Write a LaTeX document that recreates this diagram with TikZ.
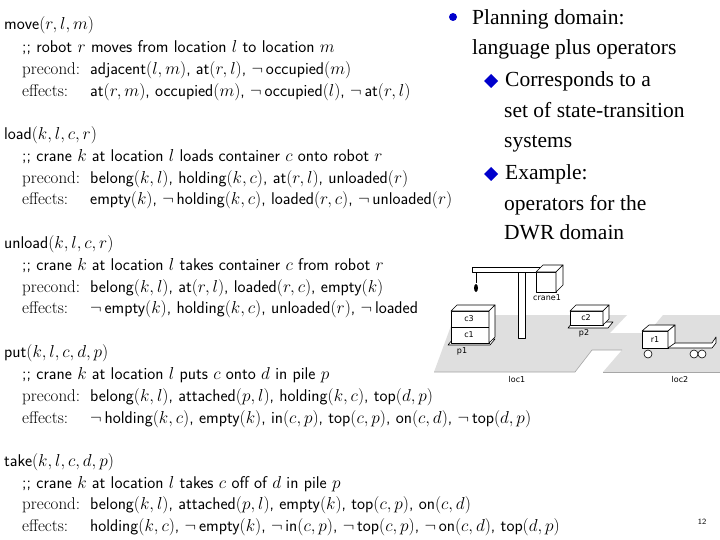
\documentclass[tikz,border=0pt]{standalone}
\usepackage{fontspec}
\newfontfamily\tms{Liberation Serif}
\newfontfamily\dvs{DejaVu Sans}
\begin{document}
\begin{tikzpicture}[x=1pt,y=-1pt,
  op/.style={anchor=base west,inner sep=0pt,font=\fontsize{17}{19}\selectfont\sffamily},
  rt/.style={anchor=base west,inner sep=0pt,font=\fontsize{21.5}{24}\selectfont\tms},
  lab/.style={inner sep=0pt,font=\fontsize{8}{9}\selectfont\dvs},
  box/.style={draw=black,fill=white,line width=0.6pt,line join=round}]
\useasboundingbox (0,0) rectangle (720,540);
% ---- left operators
\def\X{4}\def\Y{22}\def\Z{90}
\node[op] (m0) at (\X,30) {move$(r,l,m)$};
\node[op] (m1) at (\Y,53) {;; robot $r$ moves from location $l$ to location $m$};
\node[op] (m2) at (\Y,75) {\textrm{precond:}};
\node[op] (m2b) at (\Z,75) {adjacent$(l,m)$, at$(r,l)$, $\neg$\,occupied$(m)$};
\node[op] (m3) at (\Y,97) {\textrm{effects:}};
\node[op] (m3b) at (\Z,97) {at$(r,m)$, occupied$(m)$, $\neg$\,occupied$(l)$, $\neg$\,at$(r,l)$};
\node[op] (l0) at (\X,140) {load$(k,l,c,r)$};
\node[op] (l1) at (\Y,162) {;; crane $k$ at location $l$ loads container $c$ onto robot $r$};
\node[op] (l2) at (\Y,184) {\textrm{precond:}};
\node[op] (l2b) at (\Z,184) {belong$(k,l)$, holding$(k,c)$, at$(r,l)$, unloaded$(r)$};
\node[op] (l3) at (\Y,205) {\textrm{effects:}};
\node[op] (l3b) at (\Z,205) {empty$(k)$, $\neg$\,holding$(k,c)$, loaded$(r,c)$, $\neg$\,unloaded$(r)$};
\node[op] (u0) at (\X,248) {unload$(k,l,c,r)$};
\node[op] (u1) at (\Y,270) {;; crane $k$ at location $l$ takes container $c$ from robot $r$};
\node[op] (u2) at (\Y,292) {\textrm{precond:}};
\node[op] (u2b) at (\Z,292) {belong$(k,l)$, at$(r,l)$, loaded$(r,c)$, empty$(k)$};
\node[op] (u3) at (\Y,313) {\textrm{effects:}};
\node[op] (u3b) at (\Z,313) {$\neg$\,empty$(k)$, holding$(k,c)$, unloaded$(r)$, $\neg$\,loaded};
\node[op] (p0) at (\X,357) {put$(k,l,c,d,p)$};
\node[op] (p1) at (\Y,379) {;; crane $k$ at location $l$ puts $c$ onto $d$ in pile $p$};
\node[op] (p2) at (\Y,401) {\textrm{precond:}};
\node[op] (p2b) at (\Z,401) {belong$(k,l)$, attached$(p,l)$, holding$(k,c)$, top$(d,p)$};
\node[op] (p3) at (\Y,423) {\textrm{effects:}};
\node[op] (p3b) at (\Z,423) {$\neg$\,holding$(k,c)$, empty$(k)$, in$(c,p)$, top$(c,p)$, on$(c,d)$, $\neg$\,top$(d,p)$};
\node[op] (t0) at (\X,466) {take$(k,l,c,d,p)$};
\node[op] (t1) at (\Y,488) {;; crane $k$ at location $l$ takes $c$ off of $d$ in pile $p$};
\node[op] (t2) at (\Y,509) {\textrm{precond:}};
\node[op] (t2b) at (\Z,509) {belong$(k,l)$, attached$(p,l)$, empty$(k)$, top$(c,p)$, on$(c,d)$};
\node[op] (t3) at (\Y,531) {\textrm{effects:}};
\node[op] (t3b) at (\Z,531) {holding$(k,c)$, $\neg$\,empty$(k)$, $\neg$\,in$(c,p)$, $\neg$\,top$(c,p)$, $\neg$\,on$(c,d)$, top$(d,p)$};
% ---- DWR picture (drawn over the text, as in the slide)
\fill[white] (440,258) rectangle (720,390);
\fill[gray!25] (455,315) -- (627,315) -- (610,333) -- (648,333) -- (663,315) -- (720,315)
  -- (720,372) -- (603,372) -- (622,350) -- (592,350) -- (575,372) -- (434,372) -- cycle;
\draw[gray!70,line width=0.6pt] (434,372) -- (575,372) -- (592,350) -- (622,350);
\draw[gray!70,line width=0.6pt] (603,372) -- (720,372);
% crane
\draw[box] (518,272) rectangle (525,338);
\draw[box] (472,267) -- (540,267) -- (540,272) -- (472,272) -- cycle;
\draw[line width=0.8pt] (476,272) -- (476,283);
\fill (476,288) ellipse (2 and 4);
\draw[box] (536,272) rectangle (556,292);
\draw[box] (536,272) -- (543,265) -- (563,265) -- (556,272) -- cycle;
\draw[box] (556,272) -- (563,265) -- (563,285) -- (556,292) -- cycle;
\node[lab] (cr) at (547,298) {crane1};
% pile p1
\draw[box] (448,345) -- (453,339) -- (495,339) -- (490,345) -- cycle;
\draw[box] (451,327) rectangle (489,343);
\draw[box] (451,311) rectangle (489,327);
\draw[box] (451,311) -- (457,305) -- (495,305) -- (489,311) -- cycle;
\draw[box] (489,311) -- (495,305) -- (495,337) -- (489,343) -- cycle;
\node[lab] (c3) at (469,319) {c3};
\node[lab] (c1) at (469,335) {c1};
\node[lab] (pp1) at (462,351) {p1};
% pile p2
\draw[box] (568,328) -- (573,322) -- (613,322) -- (608,328) -- cycle;
\draw[box] (570,311) rectangle (603,325);
\draw[box] (570,311) -- (576,305) -- (609,305) -- (603,311) -- cycle;
\draw[box] (603,311) -- (609,305) -- (609,319) -- (603,325) -- cycle;
\node[lab] (c2) at (586,318) {c2};
\node[lab] (pp2) at (584,333) {p2};
% robot r1
\draw[box] (668,343) -- (712,343) -- (716,337) -- (716,343) -- (712,348) -- (668,348) -- cycle;
\draw[box] (642,331) rectangle (668,348);
\draw[box] (642,331) -- (649,325) -- (675,325) -- (668,331) -- cycle;
\draw[box] (668,331) -- (675,325) -- (675,343) -- (668,348) -- cycle;
\node[lab] (rr) at (655,340) {r1};
\draw[box] (648,354) circle (4);
\draw[box] (694,354) circle (4);
\draw[box] (702,354) circle (4);
\node[lab] (lc1) at (517,380) {loc1};
\node[lab] (lc2) at (680,380) {loc2};
% ---- right bullets
\fill[blue!80!black] (453,17) circle (4);
\node[rt] (r1) at (472,25) {Planning domain:};
\node[rt] (r2) at (472,55) {language plus operators};
\fill[blue!80!black] (484,81) -- (491,74) -- (498,81) -- (491,88) -- cycle;
\node[rt] (r3) at (505,87) {Corresponds to a};
\node[rt] (r4) at (504,118) {set of state-transition};
\node[rt] (r5) at (504,148) {systems};
\fill[blue!80!black] (484,174) -- (491,167) -- (498,174) -- (491,181) -- cycle;
\node[rt] (r6) at (505,180) {Example:};
\node[rt] (r7) at (504,211) {operators for the};
\node[rt] (r8) at (504,240) {DWR domain};
% page number
\node[inner sep=0pt,font=\fontsize{8}{9}\selectfont\sffamily] (pg) at (702,522) {12};
\end{tikzpicture}
\end{document}
